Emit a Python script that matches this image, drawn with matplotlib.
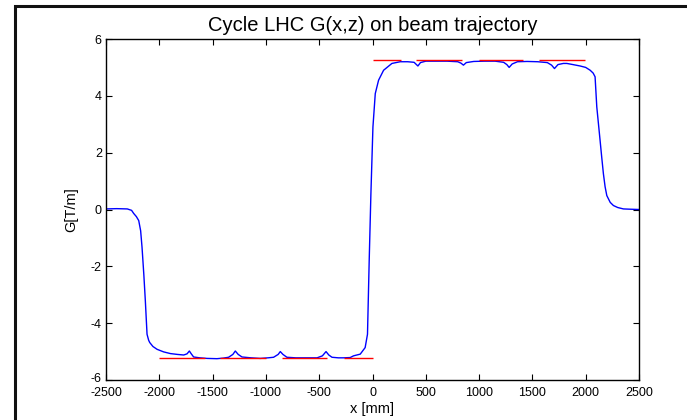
import matplotlib
matplotlib.use("Agg")
import matplotlib.pyplot as plt
import matplotlib.transforms as mtransforms
from matplotlib.patches import Rectangle

plt.rcParams['font.family'] = ['Liberation Sans', 'DejaVu Sans']
plt.rcParams['axes.unicode_minus'] = False

# Measured gradient along beam trajectory
x_mm = [-2500, -2400, -2300, -2260, -2240, -2215, -2193, -2175, -2162, -2145, -2131,
        -2115, -2100, -2090, -2060, -2021, -1960, -1896, -1830, -1771, -1740, -1718,
        -1700, -1678, -1620, -1553, -1459, -1400, -1350, -1310, -1287, -1260, -1224,
        -1140, -1053, -980, -928, -885, -865, -840, -803, -720, -620, -520, -470,
        -436, -410, -380, -320, -271, -209, -178, -115, -69, -47, -31, -15, 4, 26,
        57, 104, 182, 260, 330, 390, 426, 450, 500, 600, 700, 800, 830, 853, 880,
        950, 1050, 1150, 1230, 1260, 1282, 1310, 1360, 1450, 1550, 1640, 1680, 1707,
        1740, 1790, 1823, 1880, 1948, 2000, 2042, 2070, 2088, 2104, 2120, 2135,
        2150, 2166, 2182, 2198, 2230, 2260, 2300, 2354, 2420, 2500]
g_tm = [0.02, 0.03, 0.02, -0.03, -0.14, -0.25, -0.39, -0.75, -1.33, -2.3, -3.21,
        -4.39, -4.6, -4.68, -4.82, -4.92, -5.01, -5.07, -5.1, -5.12, -5.08, -4.98,
        -5.08, -5.19, -5.22, -5.24, -5.25, -5.23, -5.2, -5.1, -4.98, -5.1, -5.19,
        -5.22, -5.24, -5.22, -5.2, -5.1, -5.0, -5.1, -5.2, -5.22, -5.22, -5.22,
        -5.15, -5.0, -5.12, -5.2, -5.22, -5.22, -5.21, -5.15, -5.09, -4.86, -4.39,
        -1.8, 0.55, 2.9, 4.08, 4.55, 4.9, 5.14, 5.2, 5.2, 5.18, 5.05, 5.17, 5.22,
        5.22, 5.22, 5.2, 5.15, 5.08, 5.17, 5.21, 5.22, 5.22, 5.18, 5.1, 5.0, 5.12,
        5.2, 5.21, 5.2, 5.17, 5.08, 4.96, 5.1, 5.14, 5.14, 5.1, 5.05, 5.0, 4.9,
        4.8, 4.67, 3.61, 3.0, 2.43, 1.85, 1.26, 0.8, 0.49, 0.25, 0.14, 0.07, 0.02,
        0.01, 0.0]

# Nominal gradient levels (start, end, value)
nom_start = [-2000, -1430, -850, -270, 0, 410, 995, 1560]
nom_end = [-1570, -1000, -430, 0, 265, 840, 1415, 1995]
nom_value = [-5.22, -5.22, -5.22, -5.22, 5.25, 5.25, 5.25, 5.25]

xticks = [-2500, -2000, -1500, -1000, -500, 0, 500, 1000, 1500, 2000, 2500]
yticks = [-6, -4, -2, 0, 2, 4, 6]

fig = plt.figure(figsize=(6.87, 4.20), dpi=100)
ax = fig.add_axes([106/687, 40/420, 533/687, 341/420])

ax.plot(x_mm, g_tm, color='#0000ff', lw=1.0)
ax.hlines(nom_value, nom_start, nom_end, colors='#ff0000', lw=1.0)

ax.set_xlim(-2500, 2500)
ax.set_ylim(-6, 6)
ax.set_xticks(xticks)
ax.set_yticks(yticks)
ax.tick_params(direction='in', top=True, right=True, length=4, width=0.8,
               labelsize=9)
ax.tick_params(axis='x', pad=5)
ax.tick_params(axis='y', pad=3)
for s in ax.spines.values():
    s.set_linewidth(1.0)
ax.set_xlabel('x [mm]', fontsize=10.5, labelpad=2)
ax.set_ylabel('G[T/m]', fontsize=10.5, labelpad=9)
ax.set_title('Cycle LHC G(x,z) on beam trajectory', fontsize=14.5, pad=6)

fig.canvas.draw()
lbl = ax.get_yticklabels()[0]
lbl.set_transform(lbl.get_transform() + mtransforms.ScaledTranslation(0, 3/100, fig.dpi_scale_trans))

# outer frame
fig.patches.append(Rectangle((15/687, -0.5), 2.0, 1.5 - 6/420,
                             transform=fig.transFigure, fill=False,
                             edgecolor='#111111', lw=2.2))

fig.savefig('out.png', dpi=100)
